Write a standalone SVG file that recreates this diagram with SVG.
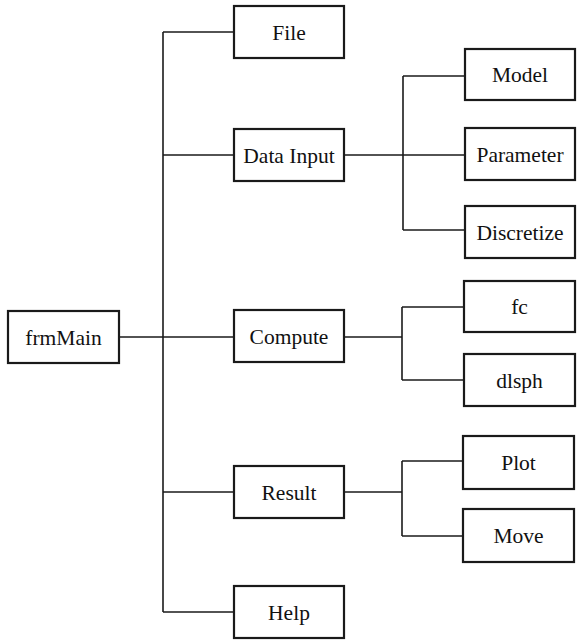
<svg xmlns="http://www.w3.org/2000/svg" width="580" height="640" viewBox="0 0 580 640" font-family="'Times New Roman', 'Liberation Serif', serif">
  <style>
    .box { fill: #fff; stroke: #1a1a1a; stroke-width: 2.2; }
    .wire { fill: none; stroke: #1a1a1a; stroke-width: 1.6; }
    text { font-family: 'Times New Roman', 'Liberation Serif', serif; font-size: 21.5px; text-anchor: middle; fill: #111; }
  </style>
  <rect width="580" height="640" fill="#fff"/>

  <!-- connectors -->
  <g id="connectors" class="wire">
    <path d="M119 337 H234"/>
    <path d="M163 32 V612"/>
    <path d="M163 32 H234"/>
    <path d="M163 155 H234"/>
    <path d="M163 492 H234"/>
    <path d="M163 612 H234"/>
    <path d="M344 155 H464"/>
    <path d="M403 76 V230"/>
    <path d="M403 76 H464"/>
    <path d="M403 230 H464"/>
    <path d="M344 337 H402"/>
    <path d="M402 307 V380"/>
    <path d="M402 307 H464"/>
    <path d="M402 380 H464"/>
    <path d="M344 492 H402"/>
    <path d="M402 461 V536"/>
    <path d="M402 461 H464"/>
    <path d="M402 536 H464"/>
  </g>

  <g id="frmMain"><rect class="box" x="8" y="311" width="111" height="52"/><text x="63.5" y="344.5">frmMain</text></g>

  <g id="File"><rect class="box" x="234" y="6" width="110" height="52"/><text x="289" y="39.5">File</text></g>
  <g id="DataInput"><rect class="box" x="234" y="129" width="110" height="52"/><text x="289" y="162.5">Data Input</text></g>
  <g id="Compute"><rect class="box" x="234" y="310" width="110" height="52"/><text x="289" y="343.5">Compute</text></g>
  <g id="Result"><rect class="box" x="234" y="466" width="110" height="52"/><text x="289" y="499.5">Result</text></g>
  <g id="Help"><rect class="box" x="234" y="586" width="110" height="52"/><text x="289" y="619.5">Help</text></g>

  <g id="Model"><rect class="box" x="465" y="49" width="110" height="51"/><text x="520" y="82">Model</text></g>
  <g id="Parameter"><rect class="box" x="465" y="128" width="110" height="52"/><text x="520" y="161.5">Parameter</text></g>
  <g id="Discretize"><rect class="box" x="465" y="206" width="110" height="52"/><text x="520" y="239.5">Discretize</text></g>

  <g id="fc"><rect class="box" x="464" y="281" width="111" height="51"/><text x="519.5" y="314">fc</text></g>
  <g id="dlsph"><rect class="box" x="464" y="354" width="111" height="52"/><text x="519.5" y="387.5">dlsph</text></g>

  <g id="Plot"><rect class="box" x="463" y="436" width="111" height="53"/><text x="518.5" y="470">Plot</text></g>
  <g id="Move"><rect class="box" x="463" y="509" width="111" height="53"/><text x="518.5" y="543">Move</text></g>
</svg>
